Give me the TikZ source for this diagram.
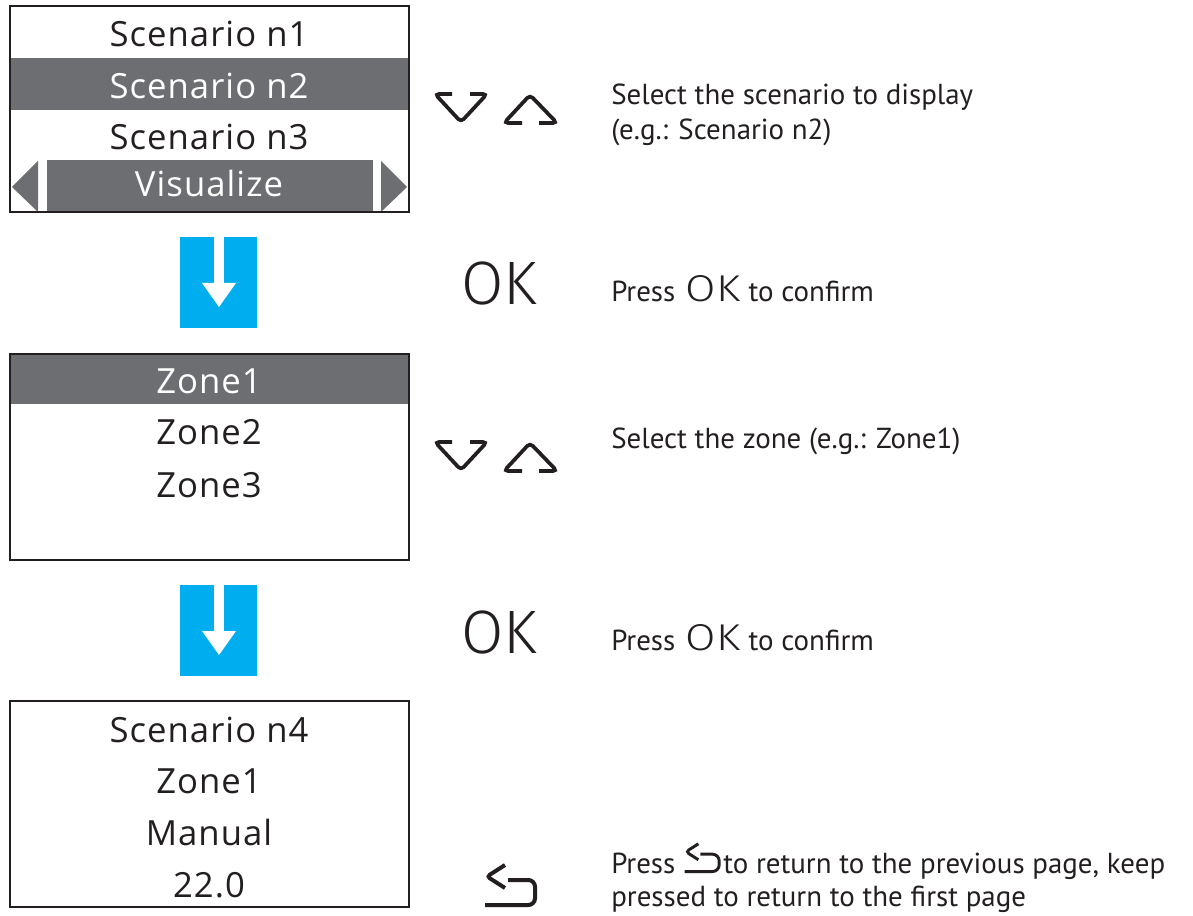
\documentclass[tikz,border=0pt]{standalone}
\usepackage{fontspec}
\setmainfont{PT Sans}
\newfontfamily\boxfont{Open Sans}[LetterSpace=3]
\newfontfamily\okfont{Fira Sans Light}
\newfontfamily\okwide{Fira Sans Light}[FakeStretch=1.18]
\definecolor{ink}{HTML}{231F20}
\definecolor{barg}{HTML}{6D6E71}
\definecolor{cyanb}{HTML}{00AEEF}
\tikzset{
  boxtxt/.style={anchor=base, font=\boxfont\fontsize{26}{30}\selectfont, text=ink, inner sep=0pt},
  hltxt/.style={boxtxt, text=white},
  desc/.style={anchor=base west, font=\fontsize{21.7}{26}\selectfont, text=ink, inner sep=0pt},
  okbig/.style={anchor=base, font=\okfont\fontsize{46}{50}\selectfont, text=ink, inner sep=0pt},
  screen/.style={draw=ink, line width=1.5pt},
  chev/.style={draw=ink, line width=2.8pt, rounded corners=3pt},
  reticon/.pic={
    \draw[ink, rounded corners=2.5pt] (22,3) -- (4,14.5) -- (22,26);
    \draw[ink, rounded corners=5pt] (25,18) -- (52,18) -- (52,43) -- (2,43);
  },
  blue arrow/.pic={
    \fill[cyanb] (0,0) rectangle (77,91);
    \fill[white] (34,0) rectangle (44,46);
    \fill[white] (22,46) -- (56,46) -- (39,70) -- cycle;
  },
  chevdown/.pic={
    \draw[chev] (19,0) -- (2,0) -- (28,28) -- (54,0) -- (37,0);
  },
  chevup/.pic={
    \draw[chev] (18,28) -- (0,28) -- (26,0) -- (53,28) -- (35,28);
  }
}
\newcommand{\rtinline}{\tikz[x=0.52pt,y=-0.52pt,line width=2.2pt]{\pic{reticon};}}
\newcommand{\okinline}{{\okwide\fontsize{28}{30}\selectfont OK}}
\begin{document}
\begin{tikzpicture}[x=0.75pt,y=-0.75pt]
\useasboundingbox[fill=white] (0,0) rectangle (1193,916);

% ---- screen 1 ----
\fill[barg] (10,58) rectangle (409,110);
\fill[barg] (47,160) rectangle (373,212);
\fill[barg] (12,187) -- (38,161) -- (38,212) -- cycle;
\fill[barg] (407,187) -- (381,161) -- (381,212) -- cycle;
\draw[screen] (10,6) rectangle (409,212);
\node[boxtxt] (s1) at (209,47) {Scenario n1};
\node[hltxt] (s2) at (209,99) {Scenario n2};
\node[boxtxt] (s3) at (209,150) {Scenario n3};
\node[hltxt] (s4) at (209,197) {Visualize};

% ---- screen 2 ----
\fill[barg] (10,354) rectangle (409,404);
\draw[screen] (10,354) rectangle (409,560);
\node[hltxt] (z1) at (209,393) {Zone1};
\node[boxtxt] (z2) at (209,445) {Zone2};
\node[boxtxt] (z3) at (209,497) {Zone3};

% ---- screen 3 ----
\draw[screen] (10,701) rectangle (409,907);
\node[boxtxt] (t1) at (209,742) {Scenario n4};
\node[boxtxt] (t2) at (209,793) {Zone1};
\node[boxtxt] (t3) at (209,845) {Manual};
\node[boxtxt] (t4) at (209,897) {22.0};

% ---- blue arrows ----
\pic at (180,237) {blue arrow};
\pic at (180,585) {blue arrow};

% ---- keys ----
\pic at (433,94) {chevdown};
\pic at (504,95) {chevup};
\pic at (433,442) {chevdown};
\pic at (504,443) {chevup};
\node[okbig] (ok1) at (499,305) {OK};
\node[okbig] (ok2) at (499,653) {OK};
\pic[line width=3pt] at (483,862) {reticon};

% ---- descriptions ----
\node[desc] (d1a) at (611,105) {Select the scenario to display};
\node[desc] (d1b) at (611,140) {(e.g.: Scenario n2)};
\node[desc] (d2) at (611,302) {Press\hspace{8pt}\okinline\hspace{6pt}to confirm};
\node[desc] (d3) at (611,448) {Select the zone (e.g.: Zone1)};
\node[desc] (d4) at (611,650) {Press\hspace{8pt}\okinline\hspace{6pt}to confirm};
\node[desc] (d5a) at (611,873) {Press \rtinline\hspace{2pt}to return to the previous page, keep};
\node[desc] (d5b) at (611,906) {pressed to return to the first page};
\end{tikzpicture}
\end{document}
